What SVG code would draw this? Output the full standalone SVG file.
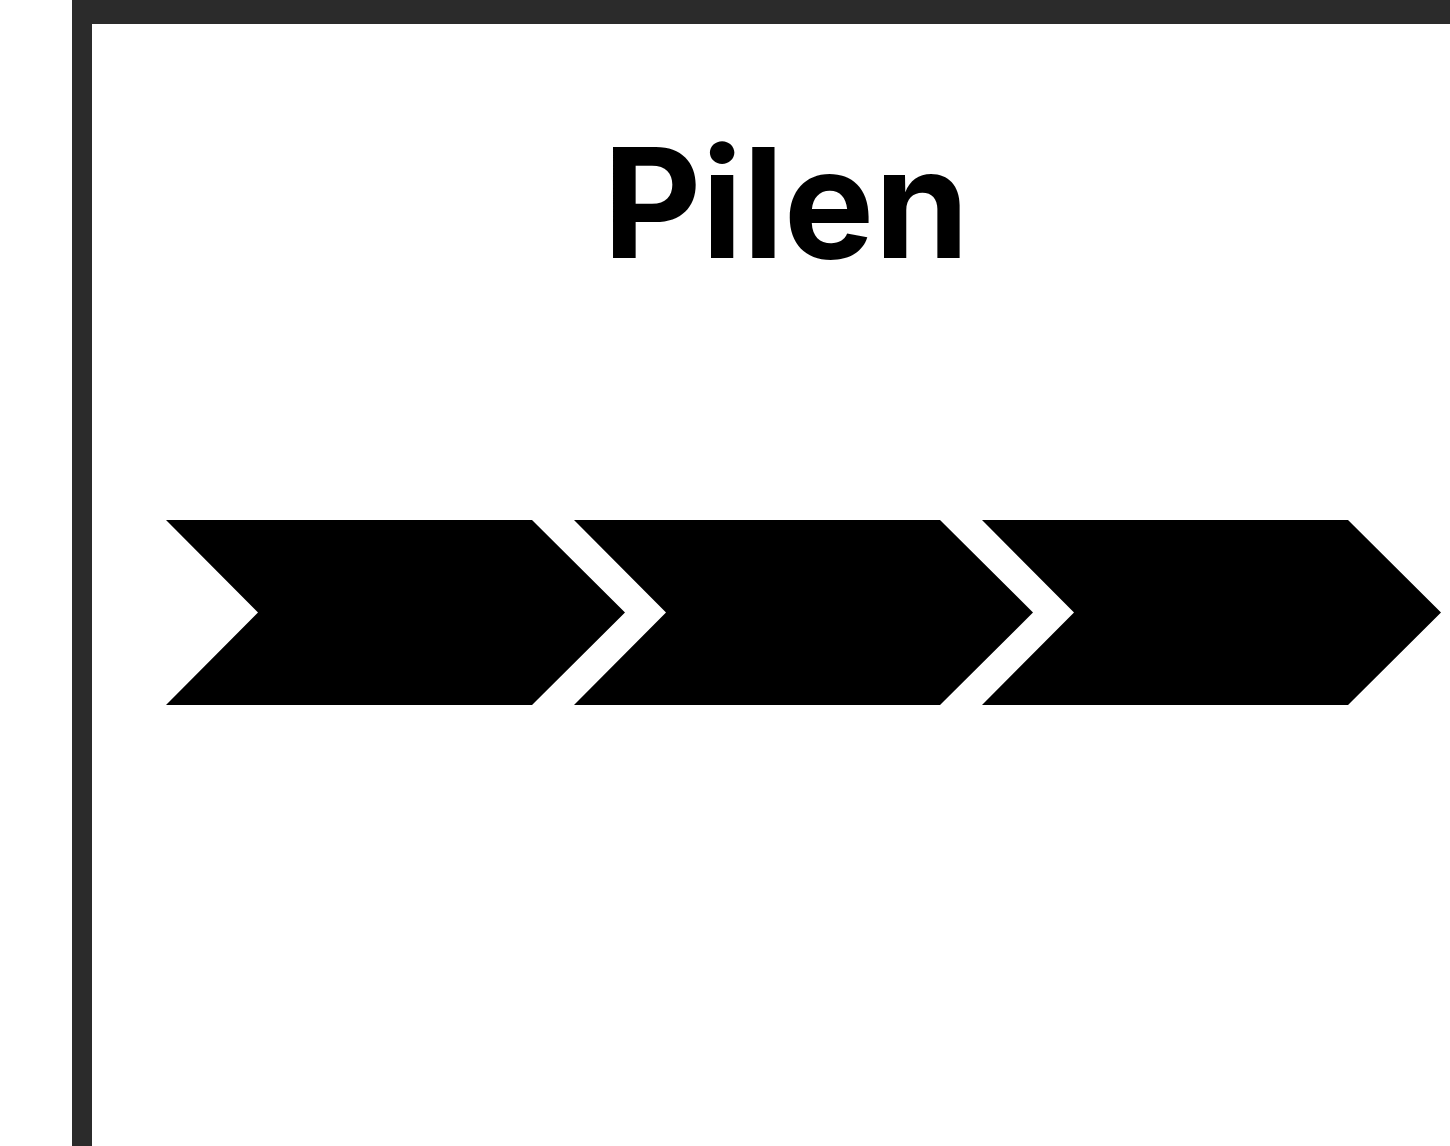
<svg xmlns="http://www.w3.org/2000/svg" width="1450" height="1146" viewBox="0 0 1450 1146">
<style>
.frame{fill:#2b2b2b}
.chev{fill:#000}
.title{font-family:Inter,"Liberation Sans",sans-serif;font-weight:700;font-size:152px;fill:#000}
</style>
<rect width="1450" height="1146" fill="#fff"/>
<g id="frame">
<rect class="frame" x="72" y="0" width="1378" height="24"/>
<rect class="frame" x="72" y="0" width="20" height="1146"/>
</g>
<g id="title"><text class="title" x="786" y="258" text-anchor="middle">Pilen</text></g>
<g id="chevron1"><polygon class="chev" points="166,520 532,520 625,612.5 532,705 166,705 258,612.5"/></g>
<g id="chevron2"><polygon class="chev" points="574,520 940,520 1033,612.5 940,705 574,705 666,612.5"/></g>
<g id="chevron3"><polygon class="chev" points="982,520 1348,520 1441,612.5 1348,705 982,705 1074,612.5"/></g>
<g id="connectors"></g>
</svg>
